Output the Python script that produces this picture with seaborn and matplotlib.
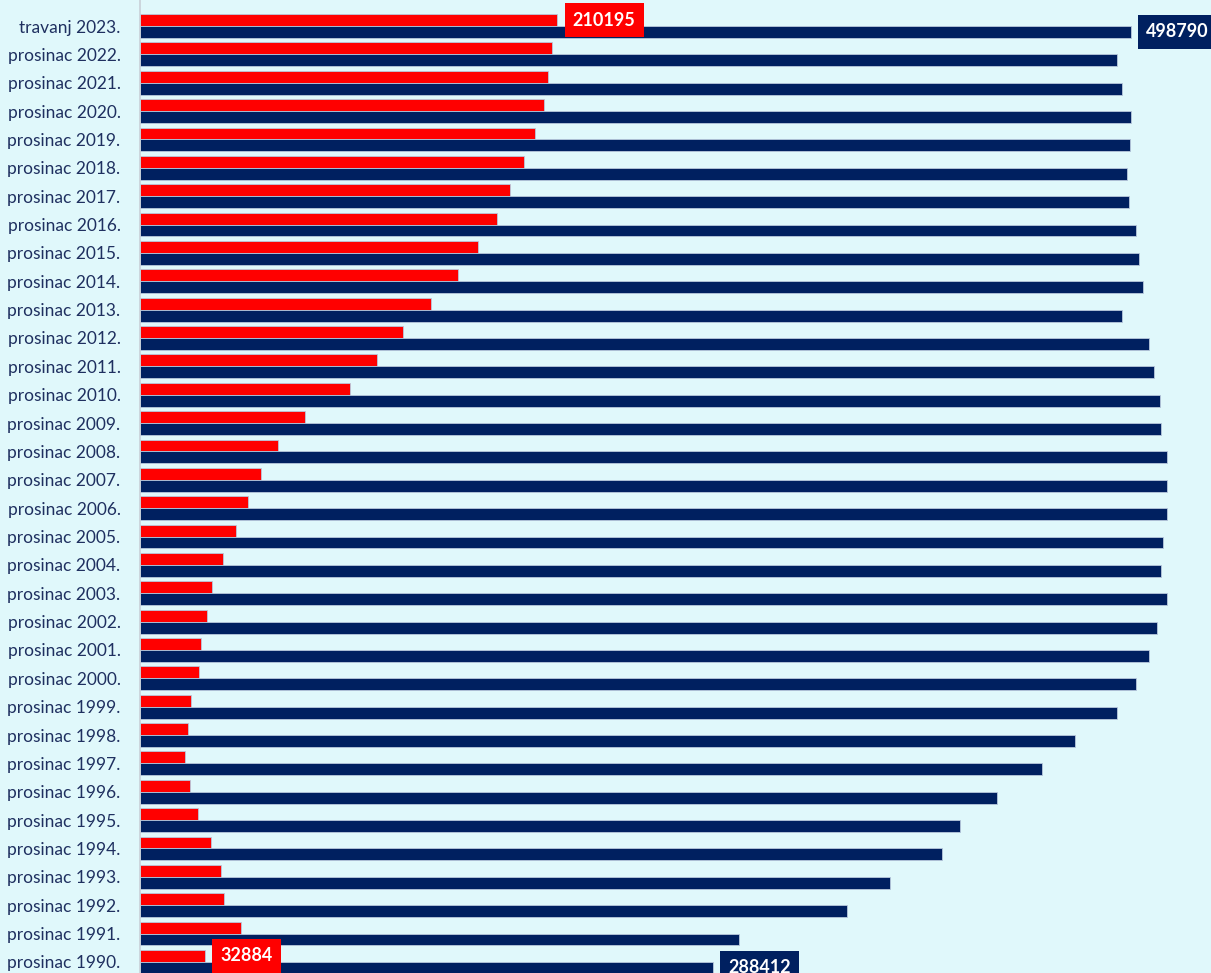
#!/usr/bin/env python3
"""Horizontal paired bars: red vs navy per period (travanj 2023 down to prosinac 1990)."""

import matplotlib
matplotlib.use("Agg")
import matplotlib.pyplot as plt
import pandas as pd
import seaborn as sns

# Period labels, top to bottom as shown in the chart.
periods = ["travanj 2023."] + [f"prosinac {y}." for y in range(2022, 1989, -1)]

# Red series (shorter bars).
red_values = [
    210195, 207440, 205430, 203410, 198880, 193340, 186300, 179750, 170180, 160110,
    146520, 132420, 119330, 105740, 83080, 69480, 60920, 54380, 48340, 41790,
    36250, 33740, 30710, 29710, 25680, 24170, 22660, 25180, 29200, 35750,
    40780, 42290, 50850, 32884,
]

# Navy series (longer bars).
navy_values = [
    498790, 491920, 494440, 498970, 498470, 496960, 497960, 501490, 503000, 505010,
    494440, 508030, 510550, 513570, 514070, 517100, 517100, 517100, 515080, 514070,
    517100, 512060, 508030, 501490, 491920, 470770, 454160, 431500, 412870, 403810,
    377630, 355980, 301600, 288412,
]

series_names = ["crveno", "plavo"]
RED = "#FF0000"
NAVY = "#002060"
BG = "#E0F8FB"
LABEL_COLOR = "#1F3060"

df = pd.DataFrame({
    "period": periods * 2,
    "value": red_values + navy_values,
    "series": [series_names[0]] * len(periods) + [series_names[1]] * len(periods),
})

sns.set_theme(style="white")
plt.rcParams["font.family"] = ["Lato", "DejaVu Sans"]

fig = plt.figure(figsize=(12.11, 9.73), dpi=100)
fig.patch.set_facecolor(BG)
ax = fig.add_axes([140 / 1211, 0, 1 - 140 / 1211, 1])
ax.set_facecolor(BG)

sns.barplot(
    data=df, y="period", x="value", hue="series", order=periods,
    hue_order=series_names, palette=[RED, NAVY], saturation=1, orient="h",
    width=0.84, edgecolor="#B8C8DC", linewidth=0.6, legend=False, ax=ax,
)

# Visible window: a slice of the first row above and last row cut at the bottom.
ax.set_ylim(33.39, -0.917)
ax.set_xlim(0, 539250)
ax.set_xlabel("")
ax.set_ylabel("")
ax.set_xticks([])
ax.tick_params(axis="y", length=0, pad=14, labelsize=12.5, labelcolor=LABEL_COLOR)
for side in ["top", "right", "bottom"]:
    ax.spines[side].set_visible(False)
ax.spines["left"].set_color("#C8D0D8")
ax.spines["left"].set_linewidth(1.2)

# Value boxes on the first and last rows.
half = 0.21
last = len(periods) - 1
labels = [
    (red_values[0], 0 - half, RED),
    (navy_values[0], 0 + half, NAVY),
    (red_values[-1], last - half, RED),
    (navy_values[-1], last + half, NAVY),
]
for val, ypos, col in labels:
    ax.annotate(
        str(val), xy=(val, ypos), xytext=(11, 0), textcoords="offset points",
        ha="left", va="center", color="white", fontsize=13, fontweight="bold",
        bbox=dict(boxstyle="square,pad=0.45", facecolor=col, edgecolor="none"),
        annotation_clip=False,
    )

fig.savefig("out.png", dpi=100, facecolor=BG)
